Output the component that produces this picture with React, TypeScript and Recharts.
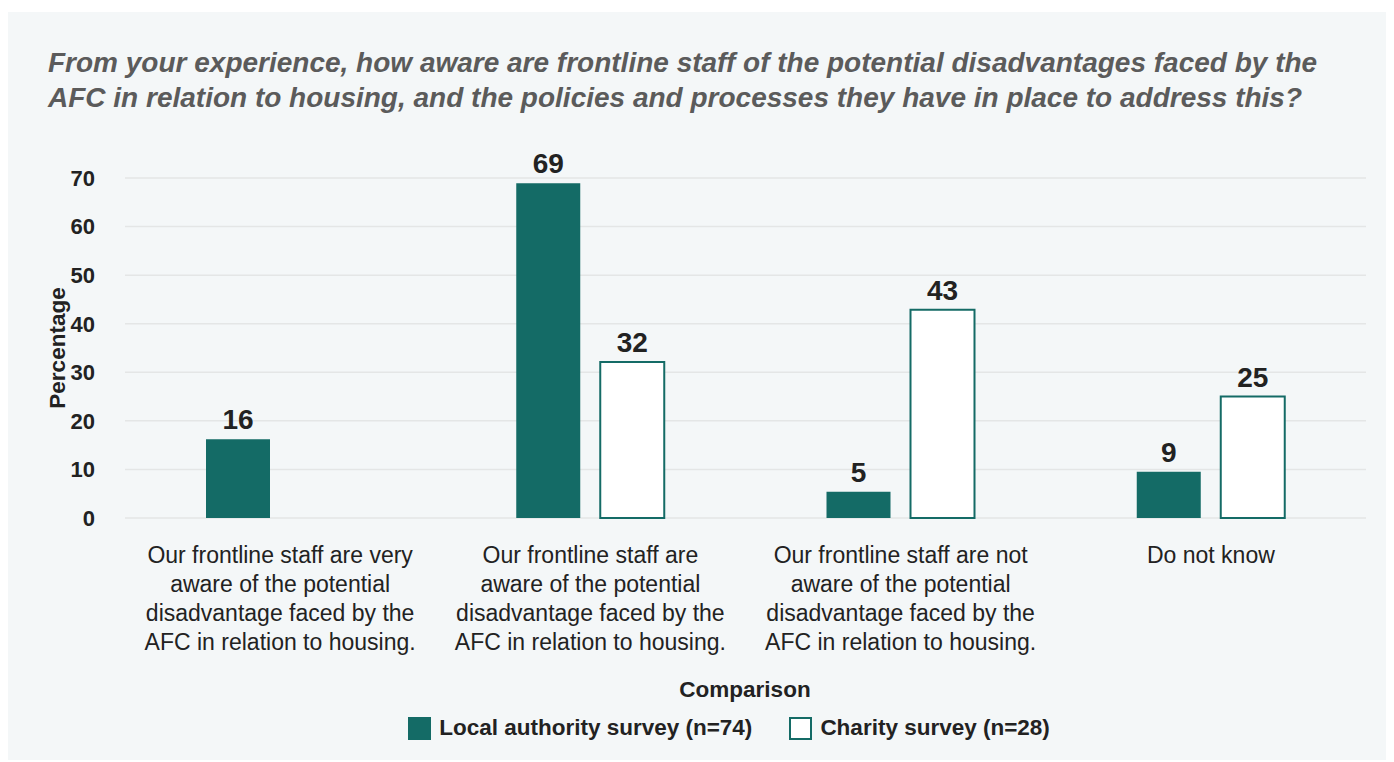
import React from 'react';
import { BarChart, Bar, XAxis, YAxis, CartesianGrid, LabelList, Label } from 'recharts';

const categories = ['Very aware', 'Aware', 'Not aware', 'Do not know'];
const categoryLines = [
  ['Our frontline staff are very', 'aware of the potential', 'disadvantage faced by the', 'AFC in relation to housing.'],
  ['Our frontline staff are', 'aware of the potential', 'disadvantage faced by the', 'AFC in relation to housing.'],
  ['Our frontline staff are not', 'aware of the potential', 'disadvantage faced by the', 'AFC in relation to housing.'],
  ['Do not know'],
];
const localValues = [16.2, 68.9, 5.4, 9.5];
const localLabels = ['16', '69', '5', '9'];
const charityValues = [0, 32.1, 42.9, 25];
const charityLabels = ['0', '32', '43', '25'];
const yTicks = [0, 10, 20, 30, 40, 50, 60, 70];

const TEAL = '#146b66';
const FONT = '"Liberation Sans", Arial, Helvetica, sans-serif';

const data = categories.map((c, i) => ({
  name: c,
  local: localValues[i],
  localLabel: localLabels[i],
  charity: charityValues[i],
  charityLabel: charityLabels[i],
}));

const CategoryTick = (props: any) => {
  const { x, y, payload } = props;
  const lines = categoryLines[payload.index] || [];
  return (
    <text x={x} y={y + 45} textAnchor="middle" fontSize={23} fill="#222" fontFamily={FONT}>
      {lines.map((line, i) => (
        <tspan key={i} x={x} dy={i === 0 ? 0 : 29}>{line}</tspan>
      ))}
    </text>
  );
};

const LegendBox = () => (
  <div style={{ position: 'absolute', left: 0, top: 665, width: 1378, fontFamily: FONT, color: '#222', textAlign: 'center', lineHeight: '26px' }}>
    <div style={{ fontSize: 22.5, fontWeight: 700, marginBottom: 12, paddingLeft: 96 }}>Comparison</div>
    <div style={{ display: 'flex', justifyContent: 'center', alignItems: 'center', fontSize: 22.5, fontWeight: 700, paddingLeft: 64 }}>
      <span style={{ display: 'inline-block', width: 23, height: 23, background: TEAL, marginRight: 8 }} />
      <span style={{ marginRight: 37 }}>Local authority survey (n=74)</span>
      <span style={{ display: 'inline-block', width: 19, height: 19, background: '#fff', border: `2px solid ${TEAL}`, marginRight: 8 }} />
      <span>Charity survey (n=28)</span>
    </div>
  </div>
);

export default function App() {
  return (
    <div style={{ position: 'relative', width: 1378, height: 748, marginTop: 4, background: '#f4f7f8', fontFamily: FONT }}>
      <div
        style={{
          position: 'absolute',
          left: 40,
          top: 33,
          width: 1330,
          fontSize: 28,
          lineHeight: '35px',
          fontWeight: 700,
          fontStyle: 'italic',
          color: '#5b5b5b',
          whiteSpace: 'nowrap',
        }}
      >
        From your experience, how aware are frontline staff of the potential disadvantages faced by the
        <br />
        AFC in relation to housing, and the policies and processes they have in place to address this?
      </div>
      <div style={{ position: 'absolute', left: 0, top: 0 }}>
        <BarChart
          width={1378}
          height={748}
          data={data}
          margin={{ top: 166, right: 20, left: 57, bottom: 212 }}
          barGap={20}
          barSize={64}
        >
          <CartesianGrid vertical={false} stroke="#e4e6e6" strokeWidth={1.5} />
          <XAxis
            dataKey="name"
            height={30}
            axisLine={false}
            tickLine={false}
            tickSize={0}
            tickMargin={0}
            interval={0}
            tick={<CategoryTick />}
          />
          <YAxis
            width={60}
            domain={[0, 70]}
            ticks={yTicks}
            axisLine={false}
            tickLine={false}
            tickSize={0}
            tickMargin={30}
            tick={{ fill: '#222', fontSize: 22, fontWeight: 700, fontFamily: FONT }}
          >
            <Label
              value="Percentage"
              angle={-90}
              position="left"
              offset={8}
              style={{ fill: '#222', fontSize: 22.5, fontWeight: 700, fontFamily: FONT, textAnchor: 'middle' }}
            />
          </YAxis>
          <Bar dataKey="local" fill={TEAL} isAnimationActive={false}>
            <LabelList dataKey="localLabel" position="top" offset={10} fill="#222" fontSize={28} fontWeight={700} fontFamily={FONT} />
          </Bar>
          <Bar dataKey="charity" fill="#ffffff" stroke={TEAL} strokeWidth={2} isAnimationActive={false}>
            <LabelList dataKey="charityLabel" position="top" offset={10} fill="#222" fontSize={28} fontWeight={700} fontFamily={FONT} />
          </Bar>
        </BarChart>
      </div>
      <LegendBox />
    </div>
  );
}
